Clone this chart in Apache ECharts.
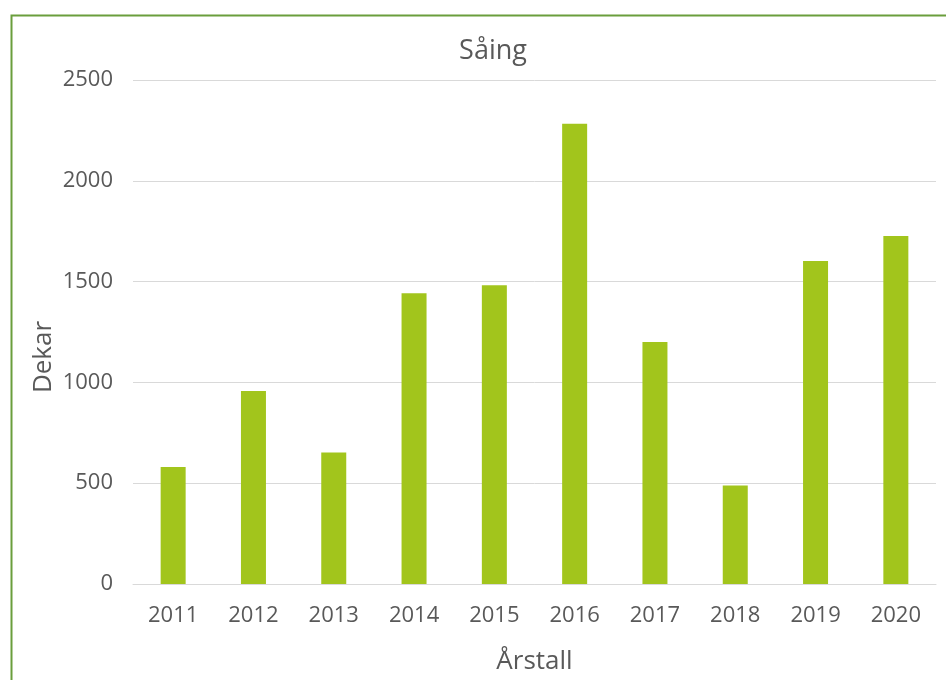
<!DOCTYPE html>
<html><head><meta charset="utf-8">
<script src="https://cdn.jsdelivr.net/npm/echarts@6/dist/echarts.min.js"></script>
<style>html,body{margin:0;padding:0;background:#fff}#c{width:946px;height:680px}</style>
</head><body><div id="c"></div>
<script>
const categories = ['2011','2012','2013','2014','2015','2016','2017','2018','2019','2020'];
const values = [580, 957, 652, 1442, 1482, 2283, 1200, 488, 1602, 1726];
const yTicks = [0, 500, 1000, 1500, 2000, 2500];
const font = 'Open Sans, Liberation Sans, sans-serif';
const chart = echarts.init(document.getElementById('c'), null, {renderer:'canvas'});
chart.setOption({
  animation:false,
  backgroundColor:'#fff',
  graphic:[{type:'rect', left:9, top:13, silent:true, z:-1,
    shape:{width:1000, height:700}, style:{fill:'none', stroke:'#6a9e3c', lineWidth:2}}],
  title:{text:'Såing', left:488, top:33, textAlign:'center', textStyle:{fontFamily:font, fontSize:27, fontWeight:'normal', color:'#595959'}},
  grid:{left:133, right:10, top:80, bottom:96, containLabel:false},
  xAxis:{type:'category', data:categories, name:'Årstall', nameLocation:'middle', nameGap:65,
    nameTextStyle:{fontFamily:font, fontSize:26, color:'#595959'},
    axisLine:{show:true, lineStyle:{color:'#d9d9d9', width:1}}, axisTick:{show:false},
    axisLabel:{fontFamily:font, fontSize:22, color:'#595959', margin:21}},
  yAxis:{type:'value', min:yTicks[0], max:yTicks[yTicks.length-1], interval:500, name:'Dekar', nameLocation:'middle', nameGap:76,
    nameMoveOverlap:false,
    nameTextStyle:{fontFamily:font, fontSize:26, color:'#595959', padding:[0,50,0,0]},
    axisLine:{show:false}, axisTick:{show:false},
    splitLine:{lineStyle:{color:'#d9d9d9', width:1}},
    axisLabel:{fontFamily:font, fontSize:22, color:'#595959', margin:20, formatter:v => String(v)}},
  series:[{type:'bar', data:values, barWidth:25, itemStyle:{color:'#a2c51c'}}]
});
</script></body></html>
